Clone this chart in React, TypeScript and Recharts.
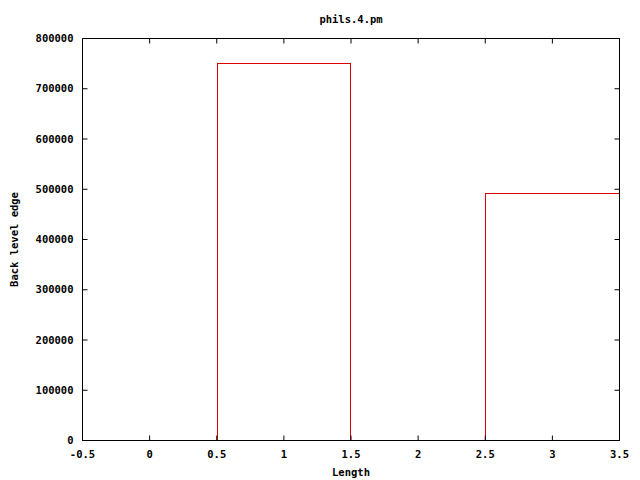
import { ComposedChart, Bar, Line, XAxis, YAxis, Label } from "recharts"

// gnuplot-style histogram: boxes at integer lengths, outlined only
const lengths = [0, 1, 2, 3]
const backLevelEdge = [0, 752000, 0, 493000]
const xTicks = [-0.5, 0, 0.5, 1, 1.5, 2, 2.5, 3, 3.5]
const yTicks = [0, 100000, 200000, 300000, 400000, 500000, 600000, 700000, 800000]
const X_MAX = 3.5

const data = lengths.map((len, i) => ({ len, value: backLevelEdge[i] }))

const FONT = "'DejaVu Sans Mono', monospace"
const TICK = 5
const RED = "#dd0000"

const textProps = {
  fontFamily: FONT,
  fontSize: 10.5,
  fontWeight: "bold" as const,
  fill: "#000",
}

function BottomTick({ x, y, payload }: any) {
  return (
    <g>
      <line x1={x} y1={y} x2={x} y2={y - TICK} stroke="#000" />
      <text x={x} y={y + 17} textAnchor="middle" {...textProps}>
        {String(payload.value)}
      </text>
    </g>
  )
}

function TopTick({ x, y }: any) {
  return <line x1={x} y1={y} x2={x} y2={y + TICK} stroke="#000" />
}

function LeftTick({ x, y, payload }: any) {
  return (
    <g>
      <line x1={x} y1={y} x2={x + TICK} y2={y} stroke="#000" />
      <text x={x - 9} y={y + 3.5} textAnchor="end" {...textProps}>
        {String(payload.value)}
      </text>
    </g>
  )
}

function RightTick({ x, y }: any) {
  return <line x1={x} y1={y} x2={x - TICK} y2={y} stroke="#000" />
}

// draw left, top and right edges of a box (the bottom sits on the border;
// a right edge on the plot border is left to the black frame)
function BoxOutline({ x, y, width, height, payload }: any) {
  if (!height || height <= 0) return null
  const l = Math.round(x) + 0.5
  const r = Math.round(x + width) - 0.5
  const t = Math.round(y) + 0.5
  const b = y + height
  const onBorder = payload && payload.len + 0.5 >= X_MAX
  const d = onBorder
    ? `M${l},${b} L${l},${t} L${r},${t}`
    : `M${l},${b} L${l},${t} L${r},${t} L${r},${b}`
  return <path d={d} fill="none" stroke={RED} strokeWidth={1} shapeRendering="crispEdges" />
}

export default function App() {
  return (
    <div style={{ position: "absolute", left: 0, top: 0, width: 640, height: 480, background: "#fff" }}>
      <ComposedChart
        width={640}
        height={480}
        data={data}
        margin={{ top: 28.5, right: 10.5, bottom: 0, left: 0.5 }}
        barCategoryGap={0}
        barGap={0}
      >
        <Bar
          xAxisId="data"
          yAxisId="left"
          dataKey="value"
          shape={<BoxOutline />}
          isAnimationActive={false}
        />
        {/* invisible series so the mirrored border axes get registered */}
        <Line
          xAxisId="top"
          yAxisId="right"
          dataKey="value"
          stroke="none"
          dot={false}
          activeDot={false}
          isAnimationActive={false}
        />
        <Line
          xAxisId="bottom"
          yAxisId="right"
          dataKey="value"
          stroke="none"
          dot={false}
          activeDot={false}
          isAnimationActive={false}
        />
        <XAxis
          xAxisId="data"
          dataKey="len"
          type="number"
          domain={[-0.5, X_MAX]}
          allowDataOverflow
          ticks={lengths}
          hide
        />
        <XAxis
          xAxisId="bottom"
          dataKey="len"
          type="number"
          domain={[-0.5, X_MAX]}
          allowDataOverflow
          ticks={xTicks}
          interval={0}
          height={39.5}
          tickSize={0}
          tickMargin={0}
          axisLine={{ stroke: "#000" }}
          tickLine={false}
          tick={<BottomTick />}
        >
          <Label
            content={({ viewBox }: any) => (
              <text x={viewBox.x + viewBox.width / 2} y={476} textAnchor="middle" {...textProps}>
                Length
              </text>
            )}
          />
        </XAxis>
        <XAxis
          xAxisId="top"
          dataKey="len"
          orientation="top"
          type="number"
          domain={[-0.5, X_MAX]}
          allowDataOverflow
          ticks={xTicks}
          interval={0}
          height={10}
          tickSize={0}
          tickMargin={0}
          axisLine={{ stroke: "#000" }}
          tickLine={false}
          tick={<TopTick />}
        >
          <Label
            content={({ viewBox }: any) => (
              <text x={viewBox.x + viewBox.width / 2} y={23} textAnchor="middle" {...textProps}>
                phils.4.pm
              </text>
            )}
          />
        </XAxis>
        <YAxis
          yAxisId="left"
          type="number"
          domain={[0, 800000]}
          allowDataOverflow
          ticks={yTicks}
          interval={0}
          width={82}
          tickSize={0}
          tickMargin={0}
          axisLine={{ stroke: "#000" }}
          tickLine={false}
          tick={<LeftTick />}
        >
          <Label
            content={({ viewBox }: any) => {
              const cy = viewBox.y + viewBox.height / 2
              return (
                <text x={18} y={cy} transform={`rotate(-90, 18, ${cy})`} textAnchor="middle" {...textProps}>
                  Back level edge
                </text>
              )
            }}
          />
        </YAxis>
        <YAxis
          yAxisId="right"
          orientation="right"
          type="number"
          domain={[0, 800000]}
          allowDataOverflow
          ticks={yTicks}
          interval={0}
          width={10}
          tickSize={0}
          tickMargin={0}
          axisLine={{ stroke: "#000" }}
          tickLine={false}
          tick={<RightTick />}
        />
      </ComposedChart>
    </div>
  )
}
